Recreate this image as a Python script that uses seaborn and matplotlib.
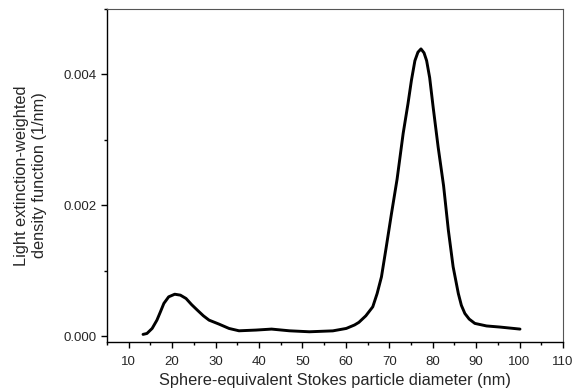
import numpy as np
import pandas as pd
import seaborn as sns
import matplotlib.pyplot as plt
from matplotlib.ticker import MultipleLocator

# valori (diametro in nm, densita' in 1/nm)
diameter = [13.3, 14.2, 15.4, 16.5, 17.3, 18.1, 19.2, 20.6, 21.9, 23.2,
            24.5, 25.8, 27.2, 28.5, 30.8, 33.1, 35.4, 39.3, 42.9, 47.0,
            51.6, 57.0, 60.1, 62.0, 63.0, 64.6, 66.2, 67.2, 68.2, 69.3,
            70.5, 71.8, 73.2, 74.3, 75.1, 75.9, 76.6, 77.3, 78.0, 78.6,
            79.3, 80.1, 81.25, 82.5, 83.6, 84.7, 85.9, 86.6, 87.4, 88.4,
            89.7, 92.4, 95.5, 100.1]
density = [0.000026, 0.000040, 0.000117, 0.000244, 0.000370, 0.000500,
           0.000600, 0.000640, 0.000626, 0.000575, 0.000480, 0.000397,
           0.000310, 0.000244, 0.000183, 0.000117, 0.000081, 0.000092,
           0.000107, 0.000081, 0.000066, 0.000080, 0.000117, 0.000170,
           0.000210, 0.000310, 0.000448, 0.000650, 0.000906, 0.001360,
           0.001870, 0.002400, 0.003100, 0.003550, 0.003910, 0.004210,
           0.004340, 0.004390, 0.004330, 0.004210, 0.003950, 0.003500,
           0.002890, 0.002300, 0.001620, 0.001060, 0.000650, 0.000470,
           0.000346, 0.000260, 0.000194, 0.000155, 0.000138, 0.000107]

xticks = [10, 20, 30, 40, 50, 60, 70, 80, 90, 100, 110]
yticks = [0.000, 0.002, 0.004]

df = pd.DataFrame({"d": diameter, "f": density})

sns.set_style("ticks")
plt.rcParams['font.family'] = ['Liberation Sans', 'DejaVu Sans']

fig = plt.figure(figsize=(5.83, 3.92), dpi=100)
ax = fig.add_axes([0.1835, 0.1276, 0.7822, 0.8494])
sns.lineplot(data=df, x="d", y="f", color="black", linewidth=2.1, ax=ax)

ax.set_xlim(5, 110)
ax.set_ylim(-0.00009, 0.005)
ax.set_xticks(xticks)
ax.set_yticks(yticks)
ax.set_yticklabels([f"{v:.3f}" for v in yticks])
ax.xaxis.set_minor_locator(MultipleLocator(5))
ax.yaxis.set_minor_locator(MultipleLocator(0.001))
ax.tick_params(which="major", direction="out", length=4, width=1, labelsize=9.5, color="black")
ax.tick_params(which="minor", direction="out", length=2.5, width=1, color="black")
ax.tick_params(axis="x", which="major", pad=6)

for s in ["left", "bottom"]:
    ax.spines[s].set_color("black")
    ax.spines[s].set_linewidth(1.0)
for s in ["top", "right"]:
    ax.spines[s].set_visible(True)
    ax.spines[s].set_color("#555555")
    ax.spines[s].set_linewidth(0.8)

ax.set_xlabel("Sphere-equivalent Stokes particle diameter (nm)", fontsize=11.8, labelpad=4)
ax.set_ylabel("Light extinction-weighted\ndensity function (1/nm)", fontsize=11.8, labelpad=12)

fig.savefig("out.png", dpi=100)
